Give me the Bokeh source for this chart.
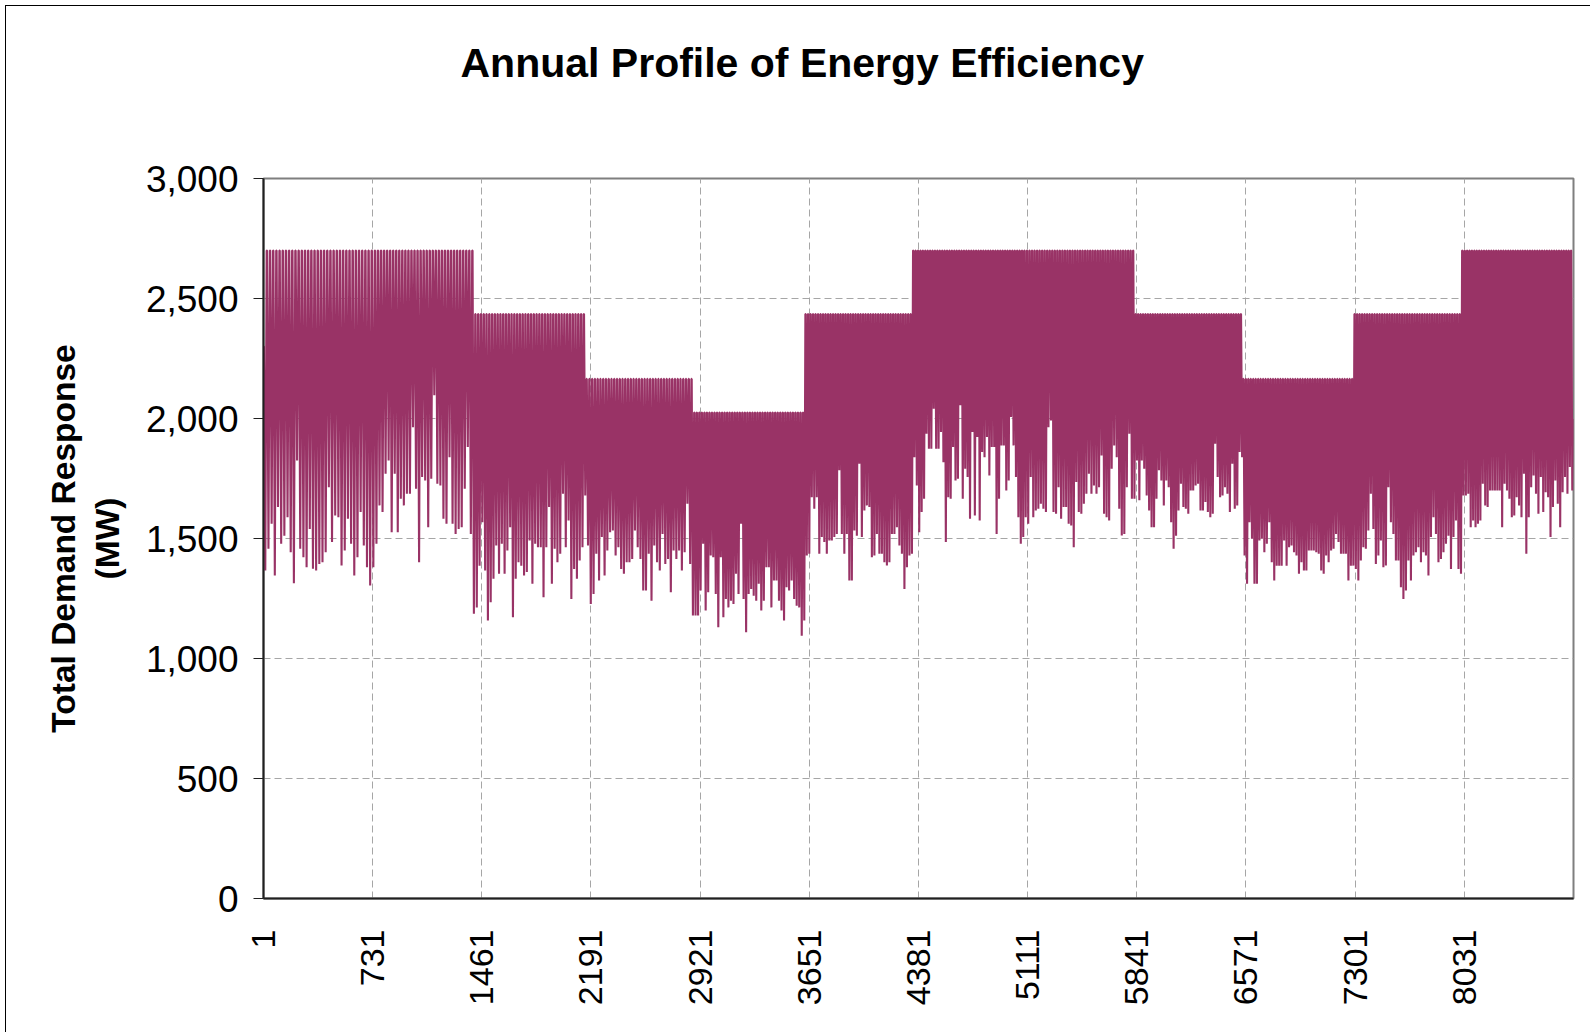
import math
from bokeh.plotting import figure
from bokeh.models import FixedTicker, NumeralTickFormatter, Range1d, LinearAxis, Title
from bokeh.embed import file_html
from bokeh.resources import INLINE

# ---------------- data ----------------
month_names = ["Jan", "Feb", "Mar", "Apr", "May", "Jun",
               "Jul", "Aug", "Sep", "Oct", "Nov", "Dec"]
month_hours = [744, 672, 744, 720, 744, 720, 744, 744, 720, 744, 720, 744]
# monthly peak (cap) of the hourly profile, MW
month_caps = [2700, 2700, 2435, 2165, 2025, 2435, 2700, 2700, 2435, 2165, 2435, 2700]

# successive low points of the profile within each month, MW
jan_lows = [1367, 1457, 1561, 1346, 1631, 1478, 1512, 1589, 1443, 1314,
            1825, 1457, 1422, 1380, 1540, 1374, 1367, 1394, 1401, 1443,
            1714, 1485, 1596, 1589, 1387, 1450, 1582, 1478, 1346, 1422,
            1610, 1471, 1380, 1304, 1380]
feb_lows = [1478, 1638, 1610, 1770, 1825, 1526, 1770, 1526, 1666, 1638,
            1686, 1686, 1964, 1707, 1401, 1756, 1742, 1547, 1749, 2097,
            1728, 1721, 1582, 1561, 1839, 1561, 1519, 1540, 1547, 1707,
            1881, 1519, 1186]
mar_lows = [1213, 1387, 1568, 1367, 1158, 1234, 1332, 1471, 1353, 1478,
            1353, 1450, 1547, 1172, 1332, 1401, 1387, 1346, 1360, 1492,
            1311, 1478, 1464, 1464, 1255, 1464, 1631, 1311, 1457, 1401,
            1436, 1686, 1464, 1575, 1248, 1373, 1332, 1408, 1464, 1679]
apr_lows = [1471, 1227, 1269, 1436, 1325, 1506, 1346, 1450, 1526, 1533,
            1429, 1464, 1373, 1353, 1401, 1401, 1415, 1533, 1464, 1415,
            1283, 1283, 1436, 1241, 1471, 1401, 1367, 1519, 1394, 1415,
            1276, 1450, 1415, 1450, 1367, 1443, 1645, 1394, 1179]
may_lows = [1179, 1179, 1283, 1478, 1200, 1276, 1429, 1422, 1269, 1130,
            1422, 1172, 1248, 1213, 1241, 1227, 1353, 1269, 1561, 1248,
            1109, 1269, 1290, 1262, 1241, 1311, 1200, 1241, 1380, 1380,
            1213, 1325, 1325, 1241, 1200, 1158, 1297, 1283, 1325, 1248,
            1220, 1213, 1095, 1158]
jun_lows = [1429, 1436, 1672, 1624, 1672, 1436, 1506, 1485, 1436, 1492,
            1492, 1506, 1519, 1784, 1519, 1436, 1519, 1325, 1325, 1533,
            1512, 1812, 1506, 1617, 1638, 1631, 1422, 1429, 1519, 1436,
            1436, 1401, 1387, 1401, 1519, 1519, 1547, 1471, 1436, 1290,
            1380, 1429, 1436]
jul_lows = [1839, 1721, 1526, 1610, 1666, 1937, 1874, 1874, 2041, 1874,
            1874, 1944, 1818, 1485, 1672, 1666, 1881, 1742, 1749, 2055,
            1666, 1791, 1756, 1582, 1944, 1596, 1923, 1575, 1860, 1839,
            1923, 1763, 1881, 1881, 1519, 1666, 1888, 1888, 1700, 1742,
            2006, 1888, 1756, 1589, 1478, 1506]
aug_lows = [1589, 1561, 1756, 1589, 1617, 1624, 1645, 1624, 1610, 1964,
            1992, 1610, 1603, 1714, 1582, 1631, 1631, 1561, 1554, 1464,
            1735, 1610, 1603, 1645, 1686, 1770, 1686, 1721, 1686, 1714,
            1846, 1603, 1589, 1575, 1791, 1888, 1839, 1624, 1512, 1519,
            1714, 1937, 1666, 1666]
sep_lows = [1825, 1659, 1825, 1791, 1679, 1617, 1547, 1547, 1666, 1784,
            1742, 1638, 1742, 1714, 1568, 1457, 1512, 1617, 1728, 1631,
            1624, 1603, 1700, 1700, 1721, 1728, 1617, 1617, 1652, 1610,
            1589, 1603, 1895, 1756, 1672, 1679, 1714, 1686, 1610, 1812,
            1624, 1638, 1860, 1839]
oct_lows = [1429, 1311, 1568, 1499, 1311, 1311, 1492, 1499, 1443, 1478,
            1568, 1401, 1325, 1387, 1387, 1387, 1492, 1387, 1464, 1471,
            1443, 1429, 1353, 1401, 1367, 1367, 1450, 1450, 1450, 1443,
            1436, 1367, 1353, 1429, 1401, 1450, 1457, 1519, 1485, 1436,
            1436, 1436, 1325, 1387, 1387]
nov_lows = [1373, 1325, 1408, 1464, 1457, 1533, 1686, 1540, 1394, 1429,
            1492, 1380, 1387, 1714, 1568, 1519, 1408, 1408, 1297, 1248,
            1283, 1408, 1325, 1429, 1443, 1464, 1401, 1443, 1429, 1346,
            1506, 1589, 1519, 1401, 1415, 1443, 1478, 1512, 1373, 1506,
            1575, 1373, 1353]
dec_lows = [1679, 1679, 1686, 1547, 1575, 1547, 1561, 1575, 1728, 1638,
            1631, 1700, 1700, 1700, 1700, 1700, 1547, 1728, 1700, 1666,
            1589, 1596, 1672, 1638, 1589, 1770, 1436, 1589, 1714, 1763,
            1686, 1603, 1756, 1610, 1693, 1672, 1506, 1631, 1742, 1645,
            1547, 1693, 1756, 1686, 1798, 1700]

first_hour_value = 2300   # MW at hour 1
last_hour_value = 2000    # MW at hour 8760

x_tick_hours = [1, 731, 1461, 2191, 2921, 3651, 4381, 5111, 5841, 6571, 7301, 8031]
y_ticks = [0, 500, 1000, 1500, 2000, 2500, 3000]

title_text = "Annual Profile of Energy Efficiency"
y_title_line1 = "Total Demand Response"
y_title_line2 = "(MW)"

# ---------------- build the hourly zig-zag from the arrays ----------------
all_lows = [jan_lows, feb_lows, mar_lows, apr_lows, may_lows, jun_lows,
            jul_lows, aug_lows, sep_lows, oct_lows, nov_lows, dec_lows]
PLATEAU = 0.12   # share of each cycle spent at the monthly peak
xs, ys = [], []
start = 1
for hours, cap, lows in zip(month_hours, month_caps, all_lows):
    step = hours / len(lows)
    for i, v in enumerate(lows):
        xs += [start + i * step, start + (i + PLATEAU) * step,
               start + (i + (1 + PLATEAU) / 2) * step]
        ys += [cap, cap, v]
    start += hours
xs.append(8760)
ys.append(month_caps[-1])
ys[0] = first_hour_value
ys[1] = first_hour_value
ys[-1] = last_hour_value

# ---------------- figure ----------------
W, H = 1590, 1032
LEFT, TOP = 263, 178
RIGHT = W - 1573
BOTTOM = H - 898
FONT = "Liberation Sans"

p = figure(width=W, height=H, x_range=Range1d(1, 8762), y_range=Range1d(0, 3000),
           output_backend="svg", toolbar_location=None,
           min_border_left=LEFT, min_border_right=RIGHT,
           min_border_top=TOP, min_border_bottom=BOTTOM,
           background_fill_color="white", border_fill_color=None)
# thin outer chart frame (left/top edges visible in the window)
p.styles = {"background": "linear-gradient(#000,#000) 5px 5px / 1px 100% no-repeat, "
                          "linear-gradient(#000,#000) 5px 5px / 100% 1px no-repeat, #ffffff"}

p.title.text = ""
p.title.standoff = 0
# empty spacer between the plot frame and the chart title
p.add_layout(Title(text=" ", text_font_size="10px", standoff=80), "above")
p.add_layout(Title(text=title_text, align="left", offset=197, standoff=0,
                   text_font=FONT, text_font_size="41px", text_font_style="bold",
                   text_color="black"), "above")

p.line(xs, ys, line_color="#993366", line_width=2.1)

p.outline_line_color = "#7f7f7f"
p.outline_line_width = 2

for ax in (p.xaxis, p.yaxis):
    ax.axis_line_color = "#202020"
    ax.axis_line_width = 2
    ax.minor_tick_line_color = None
    ax.major_label_text_font = FONT
    ax.major_label_text_color = "black"

p.xaxis.ticker = FixedTicker(ticks=x_tick_hours)
p.xaxis.major_label_orientation = math.pi / 2
p.xaxis.major_label_text_font_size = "34px"
p.xaxis.major_tick_out = 0
p.xaxis.major_tick_in = 0
p.xaxis.major_label_standoff = 31

p.yaxis.ticker = FixedTicker(ticks=y_ticks)
p.yaxis.formatter = NumeralTickFormatter(format="0,0")
p.yaxis.major_label_text_font_size = "37px"
p.yaxis.major_tick_out = 10
p.yaxis.major_tick_in = 0
p.yaxis.major_tick_line_color = "#202020"
p.yaxis.major_tick_line_width = 1
p.yaxis.major_label_standoff = 15
p.yaxis.axis_label = y_title_line2
p.yaxis.axis_label_standoff = 17
p.yaxis.axis_label_text_font = FONT
p.yaxis.axis_label_text_font_size = "33.5px"
p.yaxis.axis_label_text_font_style = "bold"
p.yaxis.axis_label_text_color = "black"

outer_axis = LinearAxis(ticker=FixedTicker(ticks=[]), axis_label=y_title_line1,
                        axis_line_color=None, major_tick_out=0, major_tick_in=0,
                        minor_tick_out=0, minor_tick_in=0, major_label_standoff=0,
                        axis_label_standoff=4, axis_label_text_font=FONT,
                        axis_label_text_font_size="33.5px",
                        axis_label_text_font_style="bold",
                        axis_label_text_color="black")
p.add_layout(outer_axis, "left")

for g in (p.xgrid, p.ygrid):
    g.grid_line_color = "#a6a6a6"
    g.grid_line_width = 1
    g.grid_line_dash = "7 4"
p.xgrid.ticker = FixedTicker(ticks=x_tick_hours[1:])
p.ygrid.ticker = FixedTicker(ticks=y_ticks[1:-1])

open("out.html", "w").write(file_html(p, INLINE))
